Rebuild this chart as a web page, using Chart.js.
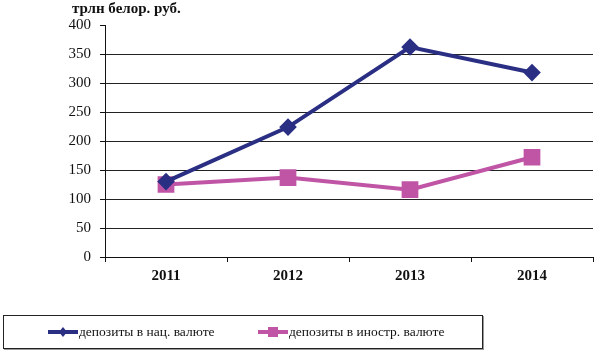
<!DOCTYPE html>
<html>
<head>
<meta charset="utf-8">
<script src="https://cdn.jsdelivr.net/npm/chart.js@4"></script>
<style>
    body { margin:0; background:#fff; }
    #wrap { position:relative; width:601px; height:351px; }
    #titre { position:absolute; left:72px; top:0px;
             font:bold 15px "Liberation Serif", serif; color:#111; }
    #legende { position:absolute; left:3px; top:315px; width:478px; height:32px;
               border:1px solid #222; box-shadow:1px 1px 0 #999;
               font:13.5px "Liberation Serif", serif; color:#111; }
    .item { position:absolute; top:8px; display:flex; align-items:center; }
    .item canvas { margin-right:1px; }
</style>
</head>
<body>
<div id="wrap">
    <canvas id="chart" width="601" height="351"></canvas>
    <div id="titre">трлн белор. руб.</div>
    <div id="legende"></div>
</div>
<script>
// ── Données ──
const ANNEES = ['2011', '2012', '2013', '2014'];
const SERIE_NAT = [130, 224, 362, 318];
const SERIE_ETR = [125, 137, 116, 172];
const NOMS = ['депозиты в нац. валюте', 'депозиты в иностр. валюте'];
const GRADUATIONS = [0, 50, 100, 150, 200, 250, 300, 350, 400];

const BLEU = '#2a2f84';
const ROSE = '#c055a5';
const POLICE = '"Liberation Serif", serif';

const datasets = [
    {
        label: NOMS[0],
        data: SERIE_NAT,
        borderColor: BLEU,
        backgroundColor: BLEU,
        borderWidth: 4,
        pointStyle: 'rectRot',
        pointRadius: 6,
        pointHoverRadius: 6,
        tension: 0
    },
    {
        label: NOMS[1],
        data: SERIE_ETR,
        borderColor: ROSE,
        backgroundColor: ROSE,
        borderWidth: 4,
        pointStyle: 'rect',
        pointRadius: 9,
        pointHoverRadius: 9,
        tension: 0
    }
];

new Chart(document.getElementById('chart'), {
    type: 'line',
    data: { labels: ANNEES, datasets },
    options: {
        responsive: false,
        animation: false,
        layout: { padding: { top: 25, right: 8, bottom: 66, left: 0 } },
        plugins: {
            legend: { display: false },
            tooltip: { enabled: false }
        },
        scales: {
            x: {
                offset: true,
                grid: {
                    offset: true,
                    drawOnChartArea: false,
                    drawTicks: true,
                    tickLength: 5,
                    color: '#111'
                },
                border: { color: '#111', width: 1 },
                ticks: {
                    color: '#111',
                    padding: 5,
                    font: { family: POLICE, size: 15, weight: 'bold' }
                },
                afterFit: s => { s.height = 28; }
            },
            y: {
                min: 0,
                max: 400,
                afterBuildTicks: s => {
                    s.ticks = GRADUATIONS.map(v => ({ value: v }));
                },
                grid: {
                    color: ctx => ctx.tick && ctx.tick.value === 400 ? 'rgba(0,0,0,0)' : '#222',
                    tickColor: '#111',
                    tickLength: 5,
                    lineWidth: 1
                },
                border: { color: '#111', width: 1 },
                ticks: {
                    color: '#111',
                    padding: 9,
                    font: { family: POLICE, size: 15 }
                },
                afterFit: s => { s.width = 105; }
            }
        }
    },
    plugins: [{
        // cale la zone de tracé sur celle du modèle (105 → 593)
        id: 'zone',
        afterLayout: chart => {
            const x = chart.scales.x;
            x.right = 593;
            x.width = x.right - x.left;
            chart.chartArea.right = 593;
            chart.chartArea.width = 593 - chart.chartArea.left;
            x.configure();
            x.generateTickLabels && x.generateTickLabels(x.ticks);
        }
    }]
});

// ── Légende HTML ──
function marqueur(couleur, style) {
    const c = document.createElement('canvas');
    c.width = 30; c.height = 14;
    const g = c.getContext('2d');
    g.fillStyle = couleur;
    g.fillRect(0, 5, 30, 4);
    g.beginPath();
    if (style === 'rectRot') {
        g.moveTo(15, 2); g.lineTo(19, 7); g.lineTo(15, 12); g.lineTo(11, 7);
    } else {
        g.rect(10, 2, 10, 10);
    }
    g.fill();
    return c;
}

const legende = document.getElementById('legende');
[[44, 0], [254, 1]].forEach(([x, i]) => {
    const d = document.createElement('div');
    d.className = 'item';
    d.style.left = x + 'px';
    d.appendChild(marqueur(datasets[i].borderColor, datasets[i].pointStyle));
    const t = document.createElement('span');
    t.textContent = NOMS[i];
    d.appendChild(t);
    legende.appendChild(d);
});
</script>
</body>
</html>
